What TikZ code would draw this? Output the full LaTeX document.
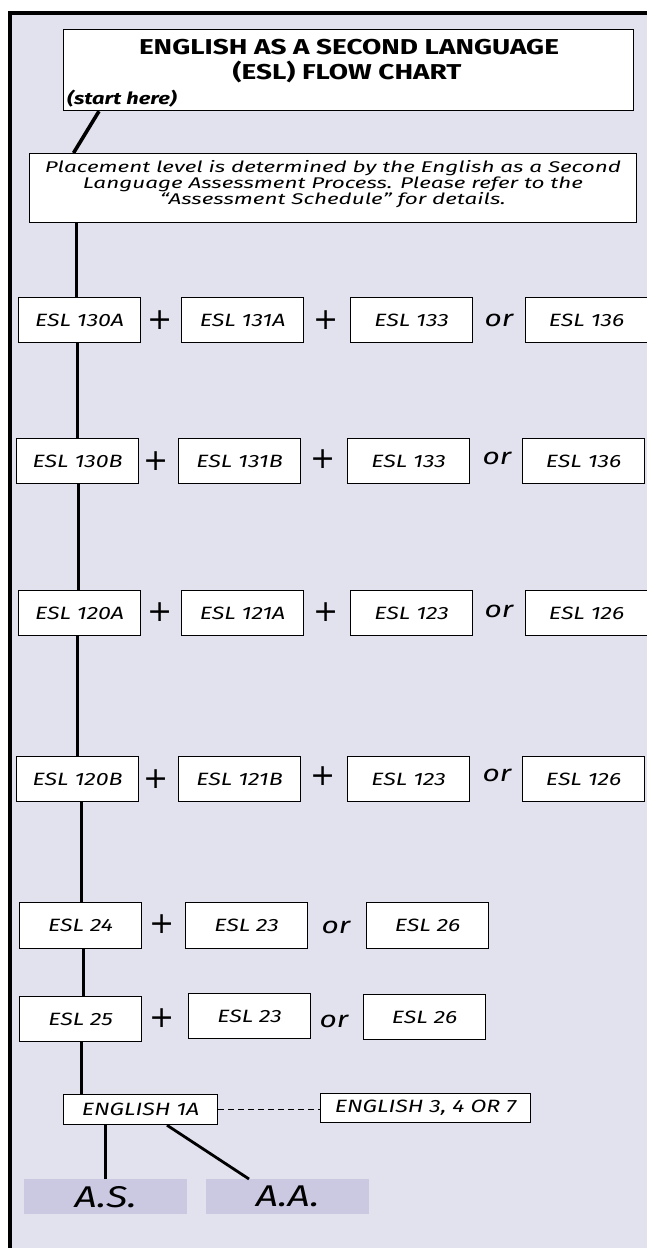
\documentclass[tikz,border=0pt]{standalone}
\usepackage{fontspec}
\setmainfont{Fira Sans}[FakeStretch=1.3]
\newfontfamily\placefont{Fira Sans}[FakeStretch=1.45]
\newfontfamily\plusfont{DejaVu Sans}
\definecolor{bgc}{HTML}{E2E1EE}
\definecolor{resc}{HTML}{CBC9E2}
\begin{document}
\begin{tikzpicture}[x=1pt,y=-1pt,
  cbox/.style={draw=black, line width=1.2pt, fill=white, inner sep=0pt, anchor=north west,
    minimum width=122pt, minimum height=45pt, font=\fontsize{17.8}{20}\selectfont\itshape},
  conn/.style={line width=2.8pt, black},
  plussign/.style={inner sep=0pt, font=\fontsize{30}{30}\plusfont},
  orword/.style={inner sep=0pt, font=\fontsize{23}{25}\selectfont\itshape},
  ebox/.style={draw=black, line width=1.2pt, fill=white, inner sep=0pt, anchor=north west,
    font=\fontsize{17.8}{20}\selectfont\itshape},
  resbox/.style={fill=resc, inner sep=0pt, anchor=north west, minimum width=163pt,
    minimum height=35pt, font=\fontsize{30}{32}\selectfont\itshape}]
\useasboundingbox (0,0) rectangle (647,1248);
\fill[bgc] (8,13) rectangle (648,1249);
\draw[line width=3.2pt] (10,1249) -- (10,13) -- (648,13);
% title
\node[draw=black, line width=1.2pt, fill=white, inner sep=0pt, anchor=north west,
  minimum width=570pt, minimum height=81pt] (title) at (63,29) {};
\node[font=\fontsize{21.5}{24}\selectfont\bfseries, inner sep=0pt] (t1) at (349,47) {ENGLISH AS A SECOND LANGUAGE};
\node[font=\fontsize{21.5}{24}\selectfont\bfseries, inner sep=0pt] (t2) at (347,72) {(ESL) FLOW CHART};
\node[font=\fontsize{16.8}{20}\selectfont\bfseries\itshape, inner sep=0pt, anchor=west] (t3) at (67,99) {(start here)};
% placement
\node[draw=black, line width=1.2pt, fill=white, inner sep=0pt, anchor=north west,
  minimum width=607pt, minimum height=69pt] (place) at (29,153) {};
\node[align=center, inner sep=0pt, font=\fontsize{15.5}{16}\placefont\itshape] (ptext) at (333,184)
  {Placement level is determined by the English as a Second\\Language Assessment Process. Please refer to the\\“Assessment Schedule” for details.};
% row 1
\node[cbox] (r1a) at (18,297) {ESL 130A};
\node[cbox] (r1b) at (181,297) {ESL 131A};
\node[cbox] (r1c) at (350,297) {ESL 133};
\node[cbox] (r1d) at (525,297) {ESL 136};
\node[plussign] (p1a) at (160,320) {+};
\node[plussign] (p1b) at (326,320) {+};
\node[orword] (o1) at (499,320) {or};
% row 2
\node[cbox] (r2a) at (16,438) {ESL 130B};
\node[cbox] (r2b) at (178,438) {ESL 131B};
\node[cbox] (r2c) at (347,438) {ESL 133};
\node[cbox] (r2d) at (522,438) {ESL 136};
\node[plussign] (p2a) at (156,461) {+};
\node[plussign] (p2b) at (323,459) {+};
\node[orword] (o2) at (497,458) {or};
% row 3
\node[cbox] (r3a) at (18,590) {ESL 120A};
\node[cbox] (r3b) at (181,590) {ESL 121A};
\node[cbox] (r3c) at (350,590) {ESL 123};
\node[cbox] (r3d) at (525,590) {ESL 126};
\node[plussign] (p3a) at (160,612) {+};
\node[plussign] (p3b) at (326,612) {+};
\node[orword] (o3) at (499,611) {or};
% row 4
\node[cbox] (r4a) at (16,756) {ESL 120B};
\node[cbox] (r4b) at (178,756) {ESL 121B};
\node[cbox] (r4c) at (347,756) {ESL 123};
\node[cbox] (r4d) at (522,756) {ESL 126};
\node[plussign] (p4a) at (156,779) {+};
\node[plussign] (p4b) at (323,776) {+};
\node[orword] (o4) at (497,775) {or};
% row 5
\node[cbox, minimum height=46pt] (r5a) at (19,902) {ESL 24};
\node[cbox, minimum height=46pt] (r5b) at (185,902) {ESL 23};
\node[cbox, minimum height=46pt] (r5c) at (366,902) {ESL 26};
\node[plussign] (p5a) at (162,924) {+};
\node[orword] (o5) at (336,927) {or};
% row 6
\node[cbox] (r6a) at (19,996) {ESL 25};
\node[cbox] (r6b) at (188,993) {ESL 23};
\node[cbox] (r6c) at (363,994) {ESL 26};
\node[plussign] (p6a) at (162,1018) {+};
\node[orword] (o6) at (334,1021) {or};
% english
\node[ebox, minimum width=154pt, minimum height=30pt] (e1) at (63,1094) {ENGLISH 1A};
\node[ebox, minimum width=210pt, minimum height=29pt] (e3) at (320,1093) {ENGLISH 3, 4 OR 7};
\node[resbox] (as) at (24,1179) {A.S.};
\node[resbox] (aa) at (206,1179) {A.A.};
% connectors
\draw[line width=3.6pt] ([xshift=36pt]title.south west) -- ([xshift=44.5pt]place.north west);
\draw[conn] ([xshift=-3pt]r1a.north) -- ([xshift=-3pt]r1a.north |- place.south);
\draw[conn] (r2a.north) -- (r2a.north |- r1a.south);
\draw[conn] ([xshift=-1pt]r3a.north) -- ([xshift=-1pt]r3a.north |- r2a.south);
\draw[conn] (r4a.north) -- (r4a.north |- r3a.south);
\draw[conn] ([xshift=1pt]r5a.north) -- ([xshift=1pt]r5a.north |- r4a.south);
\draw[conn] ([xshift=3pt]r6a.north) -- ([xshift=3pt]r6a.north |- r5a.south);
\draw[conn] ([xshift=1pt]r6a.south) -- ([xshift=1pt]r6a.south |- e1.north);
\draw[line width=1.1pt, dash pattern=on 6pt off 4pt] (e1.east) -- (e1.east -| e3.west);
\draw[conn] (as.north) -- (as.north |- e1.south);
\draw[conn] ([xshift=104pt]e1.south west) -- ([xshift=43pt]aa.north west);
\end{tikzpicture}
\end{document}
